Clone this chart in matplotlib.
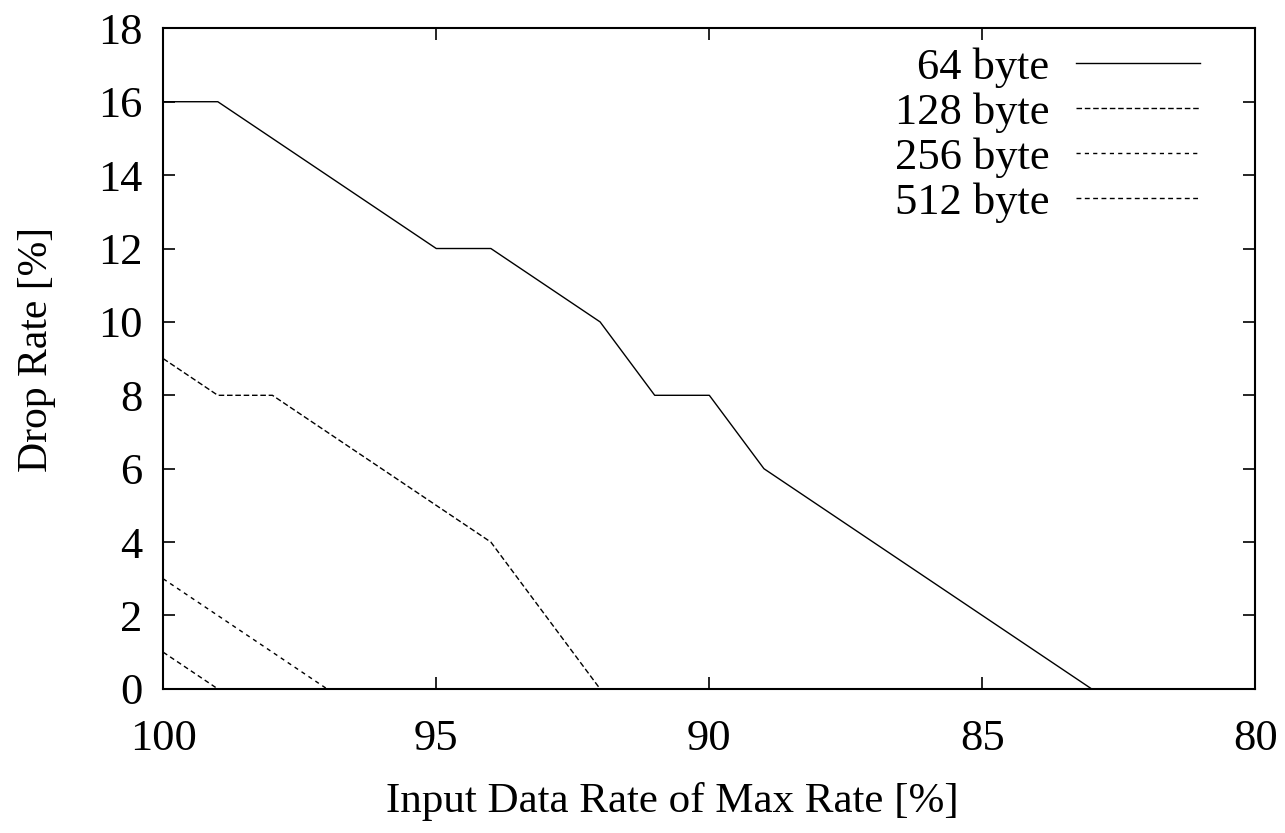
import matplotlib.pyplot as plt

plt.rcParams['font.family'] = ['Liberation Serif', 'DejaVu Serif']

x64 = [100, 99, 98, 97, 96, 95, 94, 93, 92, 91, 90, 89, 88, 87, 86, 85, 84, 83]
y64 = [16, 16, 15, 14, 13, 12, 12, 11, 10, 8, 8, 6, 5, 4, 3, 2, 1, 0]
x128 = [100, 99, 98, 97, 96, 95, 94, 93, 92]
y128 = [9, 8, 8, 7, 6, 5, 4, 2, 0]
x256 = [100, 99, 98, 97]
y256 = [3, 2, 1, 0]
x512 = [100, 99]
y512 = [1, 0]

fig, ax = plt.subplots(figsize=(12.85, 8.33), dpi=100)
fig.subplots_adjust(left=0.127, right=0.977, top=0.966, bottom=0.173)

ax.plot(x64, y64, '-', color='black', linewidth=1, label='64 byte')
ax.plot(x128, y128, color='black', linewidth=1, dashes=(4, 2), label='128 byte')
ax.plot(x256, y256, color='black', linewidth=1, dashes=(3, 3), label='256 byte')
ax.plot(x512, y512, color='black', linewidth=1, dashes=(3.5, 2.5), label='512 byte')

ax.set_xlim(100, 80)
ax.set_ylim(0, 18)
ax.set_xticks([100, 95, 90, 85, 80])
ax.set_yticks(range(0, 19, 2))
ax.tick_params(direction='in', top=True, right=True, length=8.5, width=1.2,
               labelsize=32)
ax.tick_params(axis='x', pad=22)
ax.tick_params(axis='y', pad=15)
for s in ax.spines.values():
    s.set_linewidth(1.5)

ax.set_xlabel('Input Data Rate of Max Rate [%]', fontsize=31, labelpad=16)
ax.set_ylabel('Drop Rate [%]', fontsize=30, labelpad=30)
ax.xaxis.label.set_x(0.466)
ax.yaxis.label.set_y(0.514)

leg = ax.legend(loc='upper right', bbox_to_anchor=(0.9618, 0.9914),
                fontsize=32, frameon=False, markerfirst=False,
                handlelength=2.8, labelspacing=0.1, borderaxespad=0,
                handletextpad=0.6, borderpad=0.3)
for t in leg.get_texts():
    t.set_ha('right')

plt.savefig('out.png', dpi=100)
